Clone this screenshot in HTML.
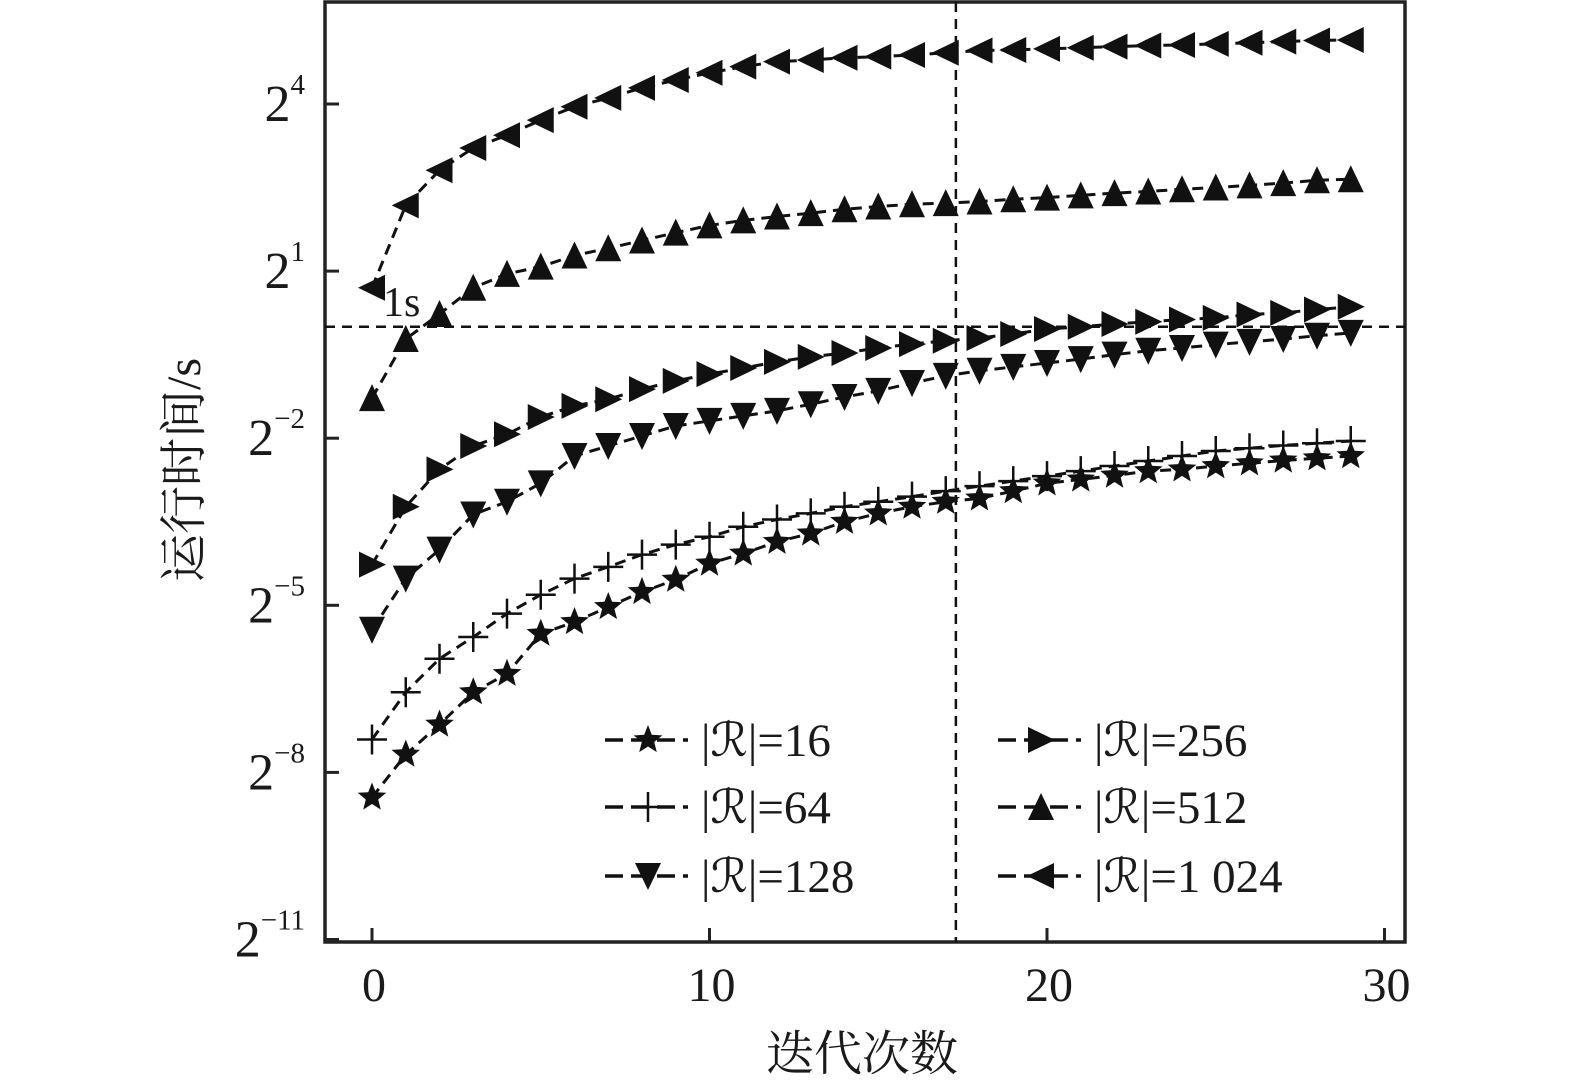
<!DOCTYPE html>
<html><head><meta charset="utf-8"><style>
html,body{margin:0;padding:0;background:#fff;}
svg{display:block;}
text{font-family:"Liberation Serif","Noto Serif CJK SC",serif;fill:#1a1a1a;}
</style></head><body>
<svg id="chart" width="1575" height="1087" viewBox="0 0 1575 1087">
<g id="axes"></g>
<g id="series"></g>
<g id="legend"></g>
</svg>
<script>
// data: log2 of runtime (seconds) per iteration 0..29
const iterations = Array.from({length:30},(_,i)=>i);
const xTicks = [0,10,20,30];
const yTicks = [4,1,-2,-5,-8,-11];
const seriesNames = ["|\u211B|=16","|\u211B|=64","|\u211B|=128","|\u211B|=256","|\u211B|=512","|\u211B|=1 024"];
const markerTypes = ["star","plus","down","right","up","left"];
const r16 = [-8.45,-7.68,-7.14,-6.56,-6.23,-5.51,-5.30,-5.03,-4.76,-4.54,-4.25,-4.07,-3.86,-3.71,-3.50,-3.35,-3.23,-3.14,-3.08,-2.95,-2.81,-2.74,-2.67,-2.59,-2.56,-2.50,-2.45,-2.40,-2.36,-2.32];
const r64 = [-7.41,-6.56,-5.96,-5.57,-5.15,-4.81,-4.52,-4.31,-4.09,-3.91,-3.77,-3.59,-3.46,-3.35,-3.23,-3.14,-3.05,-2.95,-2.86,-2.77,-2.68,-2.59,-2.50,-2.41,-2.32,-2.23,-2.18,-2.13,-2.09,-2.05];
const r128 = [-5.44,-4.52,-4.00,-3.37,-3.14,-2.81,-2.32,-2.14,-1.96,-1.78,-1.69,-1.60,-1.51,-1.39,-1.26,-1.15,-1.01,-0.88,-0.79,-0.72,-0.65,-0.58,-0.50,-0.43,-0.38,-0.32,-0.27,-0.22,-0.16,-0.11];
const r256 = [-4.27,-3.23,-2.56,-2.14,-1.93,-1.62,-1.42,-1.30,-1.12,-0.97,-0.85,-0.74,-0.63,-0.54,-0.47,-0.38,-0.31,-0.25,-0.20,-0.13,-0.04,0.00,0.05,0.09,0.13,0.16,0.22,0.25,0.31,0.36];
const r512 = [-1.28,-0.22,0.23,0.70,0.95,1.08,1.28,1.41,1.55,1.69,1.82,1.91,1.98,2.04,2.11,2.16,2.20,2.22,2.25,2.29,2.32,2.36,2.40,2.43,2.47,2.50,2.54,2.58,2.63,2.65];
const r1024 = [0.70,2.18,2.81,3.21,3.44,3.71,3.95,4.11,4.29,4.43,4.56,4.67,4.76,4.79,4.83,4.85,4.88,4.92,4.96,4.97,4.99,5.01,5.03,5.05,5.06,5.08,5.10,5.12,5.14,5.15];
const refLineY = 0;      // 1 s = 2^0
const refLineX = 17.3;   // iteration

const NS="http://www.w3.org/2000/svg";
const L=325,R=1405,T=2,B=942;
const xS=v=>372+v*33.75;
const yS=v=>104+(4-v)*55.7;
function mk(tag,attrs,parent){const e=document.createElementNS(NS,tag);for(const k in attrs)e.setAttribute(k,attrs[k]);parent.appendChild(e);return e;}
const axes=document.getElementById('axes');
let e=mk('rect',{x:L,y:T,width:R-L,height:B-T,fill:'none',stroke:'#222','stroke-width':3.5},axes);


xTicks.forEach(t=>{
  let l=mk('line',{x1:xS(t),x2:xS(t),y1:B,y2:B-14,stroke:'#222','stroke-width':3},axes);
  
  
  let tx=mk('text',{x:xS(t)+2,y:1001,'font-size':48,'text-anchor':'middle'},axes);
  tx.textContent=t;
  
  
});
yTicks.forEach(t=>{
  let l=mk('line',{x1:L,x2:L+14,y1:yS(t),y2:yS(t),stroke:'#222','stroke-width':3},axes);
  
  
  let tx=mk('text',{x:305,y:yS(t)+17,'font-size':52,'text-anchor':'end'},axes);
  tx.textContent='2';
  let sp=mk('tspan',{dy:-27,'font-size':29},tx);
  sp.textContent=(t<0?'\u2212'+(-t):''+t);
  
  
});
e=mk('line',{x1:L,x2:R,y1:yS(refLineY),y2:yS(refLineY),stroke:'#111','stroke-width':2.5,'stroke-dasharray':'10,7'},axes);


e=mk('line',{x1:xS(refLineX),x2:xS(refLineX),y1:T,y2:B,stroke:'#111','stroke-width':2.5,'stroke-dasharray':'10,7'},axes);


e=mk('text',{x:383,y:316,'font-size':42},axes);e.textContent='1s';


e=mk('text',{x:0,y:0,'font-size':48,'text-anchor':'middle',transform:'translate(200,470) rotate(-90)'},axes);e.textContent='运行时间/s';


e=mk('text',{x:862,y:1070,'font-size':48,'text-anchor':'middle'},axes);e.textContent='迭代次数';



function marker(type,x,y,p){
  const s=13;let el;
  if(type==='star'){
    let pts=[];for(let k=0;k<10;k++){const a=-Math.PI/2+k*Math.PI/5;const r=k%2?6.5:15;pts.push((x+r*Math.cos(a)).toFixed(1)+','+(y+r*Math.sin(a)).toFixed(1));}
    el=mk('polygon',{points:pts.join(' '),fill:'#111'},p);
  }else if(type==='plus'){
    el=mk('path',{d:`M${x-15},${y}H${x+15}M${x},${y-15}V${y+15}`,stroke:'#111','stroke-width':2.5,fill:'none'},p);
  }else{
    let pts;
    if(type==='up')pts=[[x,y-s-1],[x-s,y+s],[x+s,y+s]];
    if(type==='down')pts=[[x,y+s+1],[x-s,y-s],[x+s,y-s]];
    if(type==='left')pts=[[x-s-1,y],[x+s,y-s],[x+s,y+s]];
    if(type==='right')pts=[[x+s+1,y],[x-s,y-s],[x-s,y+s]];
    el=mk('polygon',{points:pts.map(q=>q.join(',')).join(' '),fill:'#111'},p);
  }
  return el;
}
const allSeries=[r16,r64,r128,r256,r512,r1024];
const sg=document.getElementById('series');
allSeries.forEach((vals,si)=>{
  const g=mk('g',{},sg);
  
  
  const d=vals.map((v,i)=>(i?'L':'M')+xS(iterations[i])+','+yS(v)).join('');
  const pl=mk('path',{d:d,fill:'none',stroke:'#111','stroke-width':3,'stroke-dasharray':'11,7'},g);
  
  
  vals.forEach((v,i)=>{
    const m=marker(markerTypes[si],xS(iterations[i]),yS(v),g);
    
    
  });
});
const lg=document.getElementById('legend');
const legPos=[[605,740],[605,807],[605,876],[998,740],[998,807],[998,876]];
seriesNames.forEach((n,i)=>{
  const [lx,ly]=legPos[i];
  const g=mk('g',{},lg);
  
  
  mk('line',{x1:lx,x2:lx+83,y1:ly,y2:ly,stroke:'#111','stroke-width':3.5,'stroke-dasharray':'18,8'},g);
  marker(markerTypes[i],lx+43,ly,g);
  const t=mk('text',{x:lx+96,y:ly+16,'font-size':47},g);
  t.textContent=n;
});
</script>
</body></html>
